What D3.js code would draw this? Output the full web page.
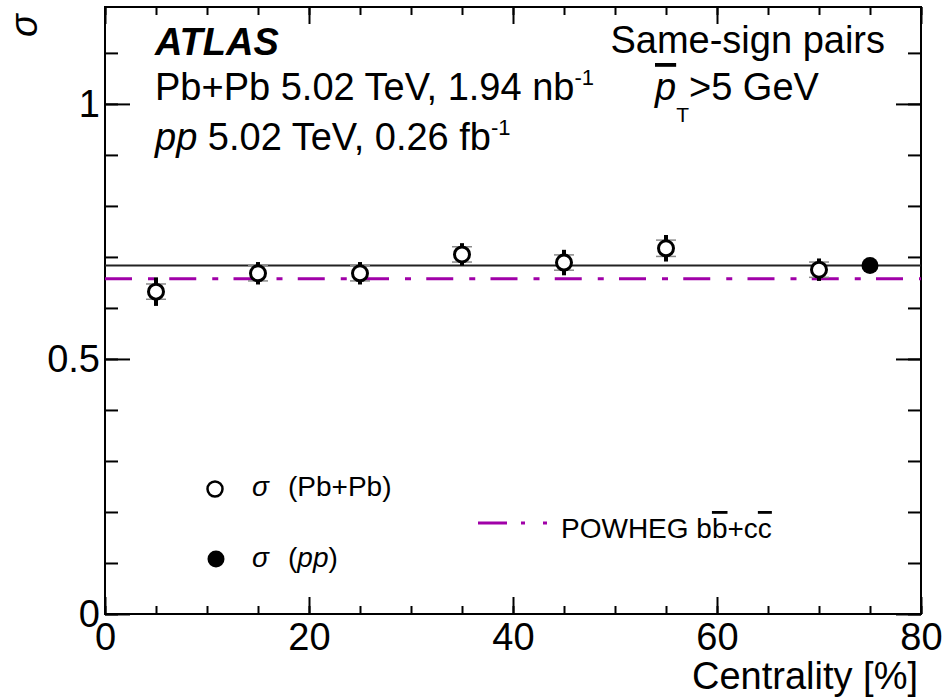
<!DOCTYPE html>
<html>
<meta charset="utf-8">
<head>
<style>
  body { margin: 0; background: #fff; }
  text { font-family: "Liberation Sans", Arial, Helvetica, sans-serif; fill: #000; }
  .axis line { stroke: #000; stroke-width: 2; }
  .axis text { font-size: 38px; font-family: "Liberation Sans", Arial, sans-serif; fill: #000; }
</style>
</head>
<body>
<script src="https://d3js.org/d3.v7.min.js"></script>
<script>

// values
var centrality = [5, 15, 25, 35, 45, 55, 70];
var sigmaPbPb = [0.632, 0.668, 0.668, 0.705, 0.689, 0.717, 0.675];
var statErr = [0.028, 0.022, 0.022, 0.022, 0.025, 0.026, 0.022];
var sysErr = [0.015, 0.015, 0.015, 0.015, 0.015, 0.016, 0.015];
var ppCentrality = [75];
var sigmaPP = [0.683];
var powheg = 0.657;
var xTicks = [0, 20, 40, 60, 80];
var yTicks = [0, 0.5, 1];

// canvas
var margin = {top: 7, right: 23, bottom: 84, left: 105},
  width = 944 - margin.left - margin.right,
  height = 698 - margin.top - margin.bottom;

var x = d3.scaleLinear().domain([0, 80]).range([0, width]);
var y = d3.scaleLinear().domain([0, 1.19]).range([height, 0]);

var root = d3.select("body").append("svg")
  .attr("width", 944)
  .attr("height", 698);

var svg = root.append("g")
  .attr("transform", "translate(" + margin.left + "," + margin.top + ")");

function noDomain(g) { g.select(".domain").remove(); }

// x axis, bottom + top (ticks point inwards)
svg.append("g")
  .attr("class", "axis")
  .attr("transform", "translate(0," + height + ")")
  .call(d3.axisBottom(x).tickValues(xTicks).tickSizeInner(-17).tickSizeOuter(0).tickPadding(9).tickFormat(d3.format("d")))
  .call(noDomain);
svg.append("g")
  .attr("class", "axis")
  .attr("transform", "translate(0," + height + ")")
  .call(d3.axisBottom(x).ticks(16).tickSizeInner(-8).tickSizeOuter(0).tickFormat(""))
  .call(noDomain);
svg.append("g")
  .attr("class", "axis")
  .call(d3.axisTop(x).tickValues(xTicks).tickSizeInner(-17).tickSizeOuter(0).tickFormat(""))
  .call(noDomain);
svg.append("g")
  .attr("class", "axis")
  .call(d3.axisTop(x).ticks(16).tickSizeInner(-8).tickSizeOuter(0).tickFormat(""))
  .call(noDomain);

// y axis, left + right
svg.append("g")
  .attr("class", "axis")
  .call(d3.axisLeft(y).tickValues(yTicks).tickSizeInner(-25).tickSizeOuter(0).tickPadding(5).tickFormat(function(d) { return d; }))
  .call(noDomain);
svg.append("g")
  .attr("class", "axis")
  .call(d3.axisLeft(y).ticks(12).tickSizeInner(-13).tickSizeOuter(0).tickFormat(""))
  .call(noDomain);
svg.append("g")
  .attr("class", "axis")
  .attr("transform", "translate(" + width + ",0)")
  .call(d3.axisRight(y).tickValues(yTicks).tickSizeInner(-25).tickSizeOuter(0).tickFormat(""))
  .call(noDomain);
svg.append("g")
  .attr("class", "axis")
  .attr("transform", "translate(" + width + ",0)")
  .call(d3.axisRight(y).ticks(12).tickSizeInner(-13).tickSizeOuter(0).tickFormat(""))
  .call(noDomain);

svg.append("rect")
  .attr("width", width)
  .attr("height", height)
  .attr("fill", "none")
  .attr("stroke", "#000")
  .attr("stroke-width", 2);

// pp reference line and POWHEG prediction
svg.append("line")
  .attr("x1", x(0)).attr("x2", x(80))
  .attr("y1", y(sigmaPP[0])).attr("y2", y(sigmaPP[0]))
  .attr("stroke", "#222")
  .attr("stroke-width", 2);

svg.append("line")
  .attr("x1", x(0)).attr("x2", x(80))
  .attr("y1", y(powheg)).attr("y2", y(powheg))
  .attr("stroke", "#a000a8")
  .attr("stroke-width", 3)
  .attr("stroke-dasharray", "27,16,6,15.25");

var points = centrality.map(function(c, i) {
  return {c: c, v: sigmaPbPb[i], stat: statErr[i], sys: sysErr[i]};
});

// systematic brackets
var sys = svg.selectAll(".sys")
  .data(points)
  .enter().append("g")
  .attr("class", "sys");
sys.append("line")
  .attr("x1", function(d) { return x(d.c) - 10; })
  .attr("x2", function(d) { return x(d.c) + 10; })
  .attr("y1", function(d) { return y(d.v + d.sys); })
  .attr("y2", function(d) { return y(d.v + d.sys); });
sys.append("line")
  .attr("x1", function(d) { return x(d.c) - 10; })
  .attr("x2", function(d) { return x(d.c) + 10; })
  .attr("y1", function(d) { return y(d.v - d.sys); })
  .attr("y2", function(d) { return y(d.v - d.sys); });
sys.selectAll("line")
  .attr("stroke", "#8a8a8a")
  .attr("stroke-width", 1.5);

// statistical error bars
svg.selectAll(".stat")
  .data(points)
  .enter().append("line")
  .attr("class", "stat")
  .attr("x1", function(d) { return x(d.c); })
  .attr("x2", function(d) { return x(d.c); })
  .attr("y1", function(d) { return y(d.v - d.stat); })
  .attr("y2", function(d) { return y(d.v + d.stat); })
  .attr("stroke", "#000")
  .attr("stroke-width", 4);

svg.selectAll(".pbpb")
  .data(points)
  .enter().append("circle")
  .attr("class", "pbpb")
  .attr("cx", function(d) { return x(d.c); })
  .attr("cy", function(d) { return y(d.v); })
  .attr("r", 7.5)
  .attr("fill", "#fff")
  .attr("stroke", "#000")
  .attr("stroke-width", 3);

svg.selectAll(".pp")
  .data(ppCentrality)
  .enter().append("circle")
  .attr("class", "pp")
  .attr("cx", function(d) { return x(d); })
  .attr("cy", function(d, i) { return y(sigmaPP[i]); })
  .attr("r", 8.5)
  .attr("fill", "#000");

// axis titles
root.append("text")
  .attr("transform", "translate(37,14) rotate(-90)")
  .attr("text-anchor", "end")
  .style("font-size", "38px")
  .style("font-style", "italic")
  .text("σ");

root.append("text")
  .attr("x", 918)
  .attr("y", 689)
  .attr("text-anchor", "end")
  .style("font-size", "38px")
  .text("Centrality [%]");

// labels
root.append("text")
  .attr("x", 155).attr("y", 55)
  .style("font-size", "38px")
  .style("font-weight", "bold")
  .style("font-style", "italic")
  .text("ATLAS");

var l2 = root.append("text")
  .attr("x", 155).attr("y", 100)
  .style("font-size", "38px");
l2.append("tspan").text("Pb+Pb 5.02 TeV, 1.94 nb");
l2.append("tspan").attr("dy", -15).style("font-size", "22px").text("-1");

var l3 = root.append("text")
  .attr("x", 155).attr("y", 150)
  .style("font-size", "38px");
l3.append("tspan").style("font-style", "italic").text("pp");
l3.append("tspan").text(" 5.02 TeV, 0.26 fb");
l3.append("tspan").attr("dy", -15).style("font-size", "22px").text("-1");

root.append("text")
  .attr("x", 885).attr("y", 53)
  .attr("text-anchor", "end")
  .style("font-size", "38px")
  .text("Same-sign pairs");

var pt = root.append("text")
  .attr("x", 655).attr("y", 100)
  .style("font-size", "38px");
pt.append("tspan").style("font-style", "italic").style("text-decoration", "overline").text("p");
pt.append("tspan").attr("dy", 22).style("font-size", "21px").text("T");
pt.append("tspan").attr("dy", -22).text(">5 GeV");

// legend
var legend = root.append("g").attr("class", "legend");
legend.append("circle")
  .attr("cx", 215).attr("cy", 489).attr("r", 7.5)
  .attr("fill", "#fff").attr("stroke", "#000").attr("stroke-width", 2.5);
legend.append("circle")
  .attr("cx", 216).attr("cy", 559).attr("r", 8.5)
  .attr("fill", "#000");

var lg1 = legend.append("text").attr("x", 252).attr("y", 496).style("font-size", "28px");
lg1.append("tspan").style("font-style", "italic").text("σ");
lg1.append("tspan").attr("x", 288).text("(Pb+Pb)");

var lg2 = legend.append("text").attr("x", 252).attr("y", 567).style("font-size", "28px");
lg2.append("tspan").style("font-style", "italic").text("σ");
lg2.append("tspan").attr("x", 288).text("(");
lg2.append("tspan").style("font-style", "italic").text("pp");
lg2.append("tspan").text(")");

legend.append("line")
  .attr("x1", 478).attr("x2", 548)
  .attr("y1", 523).attr("y2", 523)
  .attr("stroke", "#a000a8")
  .attr("stroke-width", 3)
  .attr("stroke-dasharray", "29,14,4,18,4,20");

var lg3 = legend.append("text").attr("x", 561).attr("y", 538).style("font-size", "28px");
lg3.append("tspan").text("POWHEG b");
lg3.append("tspan").style("text-decoration", "overline").text("b");
lg3.append("tspan").text("+c");
lg3.append("tspan").style("text-decoration", "overline").text("c");

</script>
</body>
</html>
